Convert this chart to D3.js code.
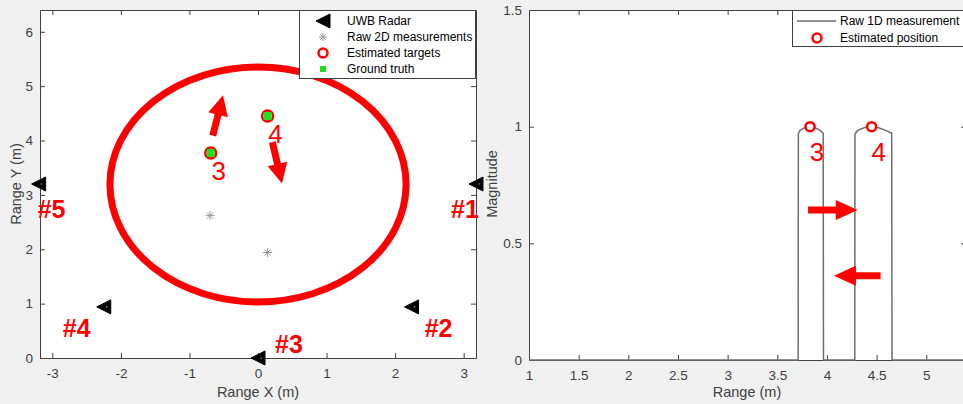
<!DOCTYPE html>
<html lang="en">
<head>
<meta charset="UTF-8">
<title>UWB radar tracking</title>
<script src="https://d3js.org/d3.v7.min.js"></script>
<style>
  body { margin: 0; background: #f0f0f0; font-family: "Liberation Sans", Arial, sans-serif; }
  .tick text { fill: #404040; font-size: 13.5px; font-family: "Liberation Sans", Arial, sans-serif; }
  .axis-label { fill: #404040; font-size: 14.5px; }
  .legend text { font-size: 12px; fill: #000; }
</style>
</head>
<body>
<div id="chart"></div>
<script>
// ---- left plot data (2D scene) ----
const radarNames = ["#1", "#2", "#3", "#4", "#5"];
const radarX = [3.18, 2.24, 0, -2.25, -3.2];
const radarY = [3.2, 0.94, 0, 0.94, 3.2];

const targetNames = ["3", "4"];
const estX = [-0.69, 0.14];
const estY = [3.77, 4.45];
const truthX = [-0.69, 0.14];
const truthY = [3.77, 4.45];
const raw2dX = [-0.7, 0.14];
const raw2dY = [2.62, 1.94];

const zoneCenter = [0, 3.19];
const zoneRadius = 2.16;

// motion arrows in data units: [x0, y0, x1, y1]
const arrows2d = [[-0.66, 4.09, -0.51, 4.83], [0.21, 3.97, 0.35, 3.21]];

const xTicks2d = [-3, -2, -1, 0, 1, 2, 3];
const yTicks2d = [0, 1, 2, 3, 4, 5, 6];

// ---- right plot data (1D range profile) ----
const rangeVals = [1, 3.71, 3.712, 3.73, 3.78, 3.83, 3.88, 3.93, 3.962, 3.965,
                   4.28, 4.282, 4.31, 4.38, 4.45, 4.52, 4.59, 4.652, 4.655, 5.4];
const magVals   = [0, 0, 0.97, 0.985, 0.996, 1.0, 0.995, 0.985, 0.972, 0,
                   0, 0.97, 0.984, 0.996, 1.0, 0.995, 0.984, 0.972, 0, 0];
const estRange = [3.83, 4.45];
const estMag = [1.0, 1.0];
const arrows1d = [[3.81, 0.643, 4.31, 0.643], [4.54, 0.361, 4.07, 0.361]];

const xTicks1d = [1, 1.5, 2, 2.5, 3, 3.5, 4, 4.5, 5];
const yTicks1d = [0, 0.5, 1, 1.5];

const W = 963, H = 404;
const svg = d3.select("#chart").append("svg")
    .attr("width", W).attr("height", H);
svg.append("rect").attr("width", W).attr("height", H).attr("fill", "#f0f0f0");

const red = "#ff0000";
const axisCol = "#404040";

function arrowPath(x0, y0, x1, y1, shaft, headLen, headW) {
    const dx = x1 - x0, dy = y1 - y0;
    const len = Math.hypot(dx, dy);
    const ux = dx / len, uy = dy / len, nx = -uy, ny = ux;
    const bx = x1 - ux * headLen, by = y1 - uy * headLen;
    const p = [
        [x0 + nx * shaft / 2, y0 + ny * shaft / 2],
        [bx + nx * shaft / 2, by + ny * shaft / 2],
        [bx + nx * headW / 2, by + ny * headW / 2],
        [x1, y1],
        [bx - nx * headW / 2, by - ny * headW / 2],
        [bx - nx * shaft / 2, by - ny * shaft / 2],
        [x0 - nx * shaft / 2, y0 - ny * shaft / 2]
    ];
    return "M" + p.map(d => d.join(",")).join("L") + "Z";
}

function drawFrame(g, x, y, xt, yt) {
    const [x0, x1] = x.range(), [y0, y1] = y.range();
    g.append("rect").attr("x", x0).attr("y", y1)
        .attr("width", x1 - x0).attr("height", y0 - y1).attr("fill", "#fff");
    const ax = g.append("g").attr("transform", `translate(0,${y0})`)
        .call(d3.axisBottom(x).tickValues(xt).tickFormat(d => String(d)).tickSizeInner(-5).tickSizeOuter(0).tickPadding(10));
    const ay = g.append("g").attr("transform", `translate(${x0},0)`)
        .call(d3.axisLeft(y).tickValues(yt).tickFormat(d => String(d)).tickSizeInner(-5).tickSizeOuter(0).tickPadding(7));
    const at = g.append("g").attr("transform", `translate(0,${y1})`)
        .call(d3.axisTop(x).tickValues(xt).tickFormat("").tickSizeInner(-5).tickSizeOuter(0));
    const ar = g.append("g").attr("transform", `translate(${x1},0)`)
        .call(d3.axisRight(y).tickValues(yt).tickFormat("").tickSizeInner(-5).tickSizeOuter(0));
    [ax, ay, at, ar].forEach(a => {
        a.select(".domain").attr("stroke", axisCol);
        a.selectAll(".tick line").attr("stroke", axisCol);
    });
}

function starPath(s) {
    const r = s / 2;
    let p = "";
    for (let k = 0; k < 4; k++) {
        const a = k * Math.PI / 4;
        p += `M${-r * Math.cos(a)},${-r * Math.sin(a)}L${r * Math.cos(a)},${r * Math.sin(a)}`;
    }
    return p;
}

// ================= left plot =================
const xL = d3.scaleLinear().domain([-3.18, 3.18]).range([40, 476]);
const yL = d3.scaleLinear().domain([0, 6.4]).range([358, 10]);
const gL = svg.append("g");
drawFrame(gL, xL, yL, xTicks2d, yTicks2d);

// zone circle
gL.append("ellipse")
    .attr("cx", xL(zoneCenter[0])).attr("cy", yL(zoneCenter[1]))
    .attr("rx", xL(zoneRadius) - xL(0)).attr("ry", yL(0) - yL(zoneRadius))
    .attr("fill", "none").attr("stroke", red).attr("stroke-width", 7);

// raw 2D measurements (stars)
raw2dX.forEach((d, i) => {
    gL.append("path").attr("d", starPath(9))
        .attr("transform", `translate(${xL(d)},${yL(raw2dY[i])})`)
        .attr("stroke", "#999").attr("stroke-width", 1).attr("fill", "none");
});

// estimated targets + ground truth
estX.forEach((d, i) => {
    gL.append("circle").attr("cx", xL(d)).attr("cy", yL(estY[i])).attr("r", 5.5)
        .attr("fill", "#fff").attr("stroke", red).attr("stroke-width", 2.5);
    gL.append("rect").attr("x", xL(truthX[i]) - 4).attr("y", yL(truthY[i]) - 4)
        .attr("width", 8).attr("height", 8).attr("fill", "#1fe01f");
    gL.append("text").attr("x", xL(d) + 8).attr("y", yL(estY[i]) + 27)
        .attr("text-anchor", "middle").attr("fill", red)
        .attr("font-size", 26).text(targetNames[i]);
});

// arrows
arrows2d.forEach(a => {
    gL.append("path")
        .attr("d", arrowPath(xL(a[0]), yL(a[1]), xL(a[2]), yL(a[3]), 7, 20, 20))
        .attr("fill", red);
});

// radars
const tri = "M-7,0L7,-7L7,7Z";
const radarLabelOff = [[-11, 34], [27, 30], [31, -5], [-27, 30], [13, 34]];
radarX.forEach((d, i) => {
    gL.append("path").attr("d", tri)
        .attr("transform", `translate(${xL(d)},${yL(radarY[i])})`)
        .attr("fill", "#000").attr("stroke", "#000").attr("stroke-width", 1);
    gL.append("circle").attr("cx", xL(d) + 3).attr("cy", yL(radarY[i])).attr("r", 0.8).attr("fill", "#888");
    gL.append("text")
        .attr("x", xL(d) + radarLabelOff[i][0]).attr("y", yL(radarY[i]) + radarLabelOff[i][1])
        .attr("text-anchor", "middle").attr("fill", red)
        .attr("font-size", 25).attr("font-weight", "bold").text(radarNames[i]);
});

// axis labels
gL.append("text").attr("class", "axis-label").attr("x", 258).attr("y", 397)
    .attr("text-anchor", "middle").text("Range X (m)");
gL.append("text").attr("class", "axis-label")
    .attr("transform", "translate(21,184) rotate(-90)")
    .attr("text-anchor", "middle").text("Range Y (m)");

// legend
const lgL = gL.append("g").attr("class", "legend");
lgL.append("rect").attr("x", 299.5).attr("y", 10.5).attr("width", 176).attr("height", 68)
    .attr("fill", "#fff").attr("stroke", axisCol).attr("stroke-width", 1);
const legRows = [21, 37, 53, 69];
lgL.append("path").attr("d", tri).attr("transform", `translate(323,${legRows[0]})`)
    .attr("fill", "#000").attr("stroke", "#000");
lgL.append("path").attr("d", starPath(8)).attr("transform", `translate(323,${legRows[1]})`)
    .attr("stroke", "#999").attr("fill", "none");
lgL.append("circle").attr("cx", 323).attr("cy", legRows[2]).attr("r", 4.5)
    .attr("fill", "#fff").attr("stroke", red).attr("stroke-width", 2.5);
lgL.append("rect").attr("x", 320).attr("y", legRows[3] - 3).attr("width", 6).attr("height", 6)
    .attr("fill", "#1fe01f");
["UWB Radar", "Raw 2D measurements", "Estimated targets", "Ground truth"].forEach((t, i) => {
    lgL.append("text").attr("x", 347).attr("y", legRows[i] + 4).text(t);
});

// ================= right plot =================
const xR = d3.scaleLinear().domain([1, 5.4]).range([529, 966]);
const yR = d3.scaleLinear().domain([0, 1.5]).range([360, 10]);
const gR = svg.append("g");
drawFrame(gR, xR, yR, xTicks1d, yTicks1d);

const line = d3.line().x(d => xR(d[0])).y(d => yR(d[1]));
gR.append("path").datum(rangeVals.map((r, i) => [r, magVals[i]]))
    .attr("d", line).attr("fill", "none").attr("stroke", "#6e6e6e").attr("stroke-width", 1.5);

estRange.forEach((d, i) => {
    gR.append("circle").attr("cx", xR(d)).attr("cy", yR(estMag[i])).attr("r", 4.5)
        .attr("fill", "#fff").attr("stroke", red).attr("stroke-width", 2.5);
    gR.append("text").attr("x", xR(d) + 7).attr("y", yR(estMag[i]) + 34)
        .attr("text-anchor", "middle").attr("fill", red)
        .attr("font-size", 26).text(targetNames[i]);
});

arrows1d.forEach(a => {
    gR.append("path")
        .attr("d", arrowPath(xR(a[0]), yR(a[1]), xR(a[2]), yR(a[3]), 7, 22, 20))
        .attr("fill", red);
});

gR.append("text").attr("class", "axis-label").attr("x", 747).attr("y", 397)
    .attr("text-anchor", "middle").text("Range (m)");
gR.append("text").attr("class", "axis-label")
    .attr("transform", "translate(497,184) rotate(-90)")
    .attr("text-anchor", "middle").text("Magnitude");

const lgR = gR.append("g").attr("class", "legend");
lgR.append("rect").attr("x", 792.5).attr("y", 10.5).attr("width", 180).attr("height", 36)
    .attr("fill", "#fff").attr("stroke", axisCol).attr("stroke-width", 1);
lgR.append("line").attr("x1", 797).attr("x2", 836).attr("y1", 21).attr("y2", 21)
    .attr("stroke", "#6e6e6e").attr("stroke-width", 1.5);
lgR.append("circle").attr("cx", 817).attr("cy", 38).attr("r", 4.5)
    .attr("fill", "#fff").attr("stroke", red).attr("stroke-width", 2.5);
lgR.append("text").attr("x", 840).attr("y", 25).text("Raw 1D measurement");
lgR.append("text").attr("x", 840).attr("y", 42).text("Estimated position");
</script>
</body>
</html>
